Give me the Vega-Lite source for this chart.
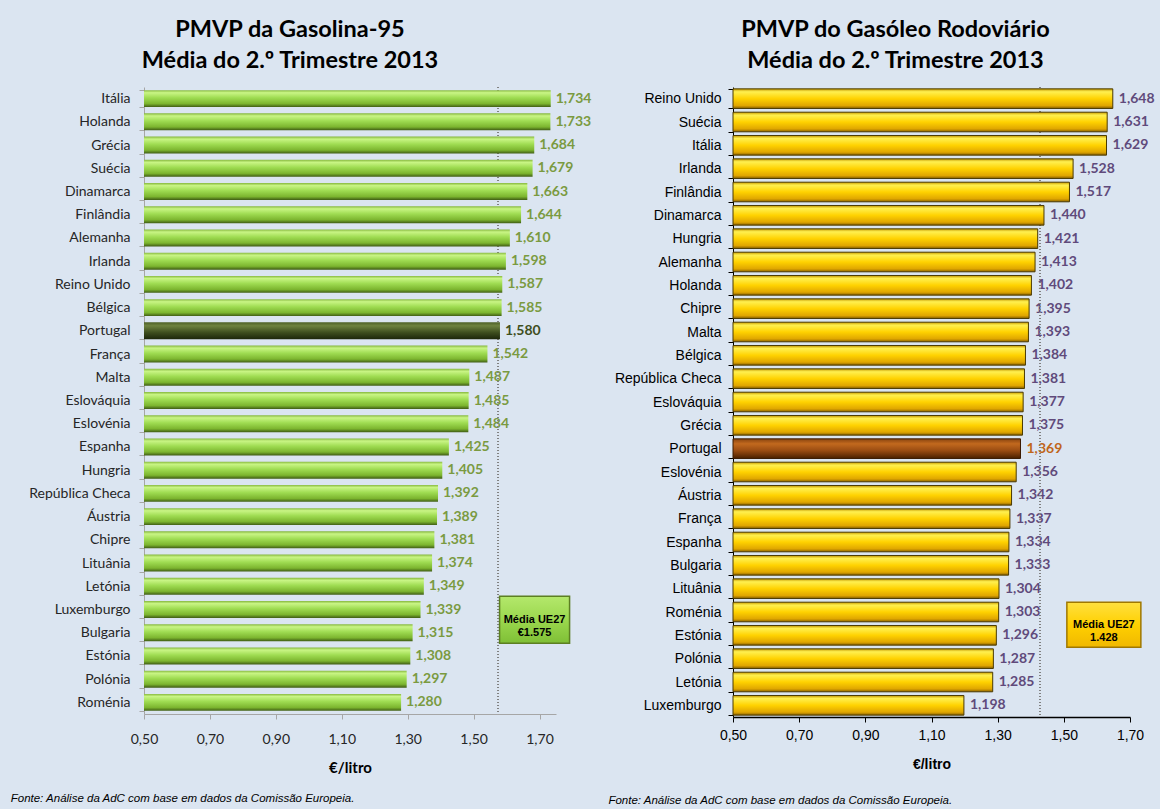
{
  "$schema": "https://vega.github.io/schema/vega-lite/v6.json",
  "background": "#dbe5f1",
  "padding": {"left": 10, "top": 17, "right": 5, "bottom": 2},
  "config": {
    "locale": {"number": {"decimal": ",", "thousands": ".", "grouping": [3], "currency": ["€", ""]}},
    "view": {"stroke": null},
    "concat": {"spacing": 16}
  },
  "datasets": {
    "gas": [
      {"pais": "Itália", "valor": 1.734},
      {"pais": "Holanda", "valor": 1.733},
      {"pais": "Grécia", "valor": 1.684},
      {"pais": "Suécia", "valor": 1.679},
      {"pais": "Dinamarca", "valor": 1.663},
      {"pais": "Finlândia", "valor": 1.644},
      {"pais": "Alemanha", "valor": 1.610},
      {"pais": "Irlanda", "valor": 1.598},
      {"pais": "Reino Unido", "valor": 1.587},
      {"pais": "Bélgica", "valor": 1.585},
      {"pais": "Portugal", "valor": 1.580},
      {"pais": "França", "valor": 1.542},
      {"pais": "Malta", "valor": 1.487},
      {"pais": "Eslováquia", "valor": 1.485},
      {"pais": "Eslovénia", "valor": 1.484},
      {"pais": "Espanha", "valor": 1.425},
      {"pais": "Hungria", "valor": 1.405},
      {"pais": "República Checa", "valor": 1.392},
      {"pais": "Áustria", "valor": 1.389},
      {"pais": "Chipre", "valor": 1.381},
      {"pais": "Lituânia", "valor": 1.374},
      {"pais": "Letónia", "valor": 1.349},
      {"pais": "Luxemburgo", "valor": 1.339},
      {"pais": "Bulgaria", "valor": 1.315},
      {"pais": "Estónia", "valor": 1.308},
      {"pais": "Polónia", "valor": 1.297},
      {"pais": "Roménia", "valor": 1.280}
    ],
    "diesel": [
      {"pais": "Reino Unido", "valor": 1.648},
      {"pais": "Suécia", "valor": 1.631},
      {"pais": "Itália", "valor": 1.629},
      {"pais": "Irlanda", "valor": 1.528},
      {"pais": "Finlândia", "valor": 1.517},
      {"pais": "Dinamarca", "valor": 1.440},
      {"pais": "Hungria", "valor": 1.421},
      {"pais": "Alemanha", "valor": 1.413},
      {"pais": "Holanda", "valor": 1.402},
      {"pais": "Chipre", "valor": 1.395},
      {"pais": "Malta", "valor": 1.393},
      {"pais": "Bélgica", "valor": 1.384},
      {"pais": "República Checa", "valor": 1.381},
      {"pais": "Eslováquia", "valor": 1.377},
      {"pais": "Grécia", "valor": 1.375},
      {"pais": "Portugal", "valor": 1.369},
      {"pais": "Eslovénia", "valor": 1.356},
      {"pais": "Áustria", "valor": 1.342},
      {"pais": "França", "valor": 1.337},
      {"pais": "Espanha", "valor": 1.334},
      {"pais": "Bulgaria", "valor": 1.333},
      {"pais": "Lituânia", "valor": 1.304},
      {"pais": "Roménia", "valor": 1.303},
      {"pais": "Estónia", "valor": 1.296},
      {"pais": "Polónia", "valor": 1.287},
      {"pais": "Letónia", "valor": 1.285},
      {"pais": "Luxemburgo", "valor": 1.198}
    ]
  },
  "hconcat": [
    {
      "title": {"text": "Fonte: Análise da AdC com base em dados da Comissão Europeia.", "orient": "bottom", "anchor": "start", "font": "Liberation Sans", "fontSize": 11.5, "fontStyle": "italic", "fontWeight": "normal", "color": "#000000", "offset": 18, "dx": -18},
      "vconcat": [
        {
          "width": 412,
          "height": 627,
          "title": {"text": ["PMVP da Gasolina-95", "Média do 2.º Trimestre 2013"], "font": "Lato", "fontSize": 23.5, "fontWeight": "bold", "lineHeight": 31, "anchor": "middle", "frame": "group", "offset": 8, "color": "#000000", "dx": -60},
          "data": {"name": "gas"},
          "encoding": {
            "y": {
              "field": "pais", "type": "nominal", "sort": null,
              "scale": {"paddingInner": 0.27, "paddingOuter": 0.135},
              "axis": {"title": null, "labelFont": "Lato", "labelFontSize": 14, "labelColor": "#262626", "domainColor": "#a6a6a6", "tickColor": "#a6a6a6", "tickBand": "extent", "tickSize": 5, "labelPadding": 9}
            }
          },
          "layer": [
            {
              "mark": {"type": "text", "align": "left", "baseline": "middle", "dx": 5, "font": "Lato", "fontSize": 14, "fontWeight": "bold"},
              "encoding": {
                "x": {"field": "valor", "type": "quantitative", "scale": {"domain": [0.5, 1.75], "zero": false, "nice": false},
                  "axis": {"values": [0.5, 0.7, 0.9, 1.1, 1.3, 1.5, 1.7], "format": ".2f", "grid": false, "labelFlush": false, "labelFont": "Lato", "labelFontSize": 14, "labelColor": "#262626", "domainColor": "#a6a6a6", "tickColor": "#a6a6a6", "tickSize": 5, "labelPadding": 13, "title": "€/litro", "titleFont": "Lato", "titleFontSize": 15, "titleFontWeight": "bold", "titleColor": "#000000", "titlePadding": 14}},
                "text": {"field": "valor", "type": "quantitative", "format": ".3f"},
                "color": {"condition": {"test": "datum.pais === 'Portugal'", "value": "#3f4f1f"}, "value": "#7a9a40"}
              }
            },
            {
              "mark": {"type": "rule", "strokeDash": [1, 2], "color": "#808080", "strokeWidth": 1},
              "encoding": {"x": {"datum": 1.575, "type": "quantitative"}, "y": null}
            },
            {
              "transform": [{"filter": "datum.pais !== 'Portugal'"}],
              "mark": {"type": "bar", "color": {"gradient": "linear", "x1": 0, "y1": 0, "x2": 0, "y2": 1, "stops": [
                {"offset": 0, "color": "#86b83e"}, {"offset": 0.15, "color": "#c9f585"}, {"offset": 0.45, "color": "#9fdc52"}, {"offset": 0.8, "color": "#7cb52f"}, {"offset": 1, "color": "#3f5c14"}]}},
              "encoding": {
                "x": {"field": "valor", "type": "quantitative"},
                "x2": {"datum": 0.5}
              }
            },
            {
              "transform": [{"filter": "datum.pais === 'Portugal'"}],
              "mark": {"type": "bar", "color": {"gradient": "linear", "x1": 0, "y1": 0, "x2": 0, "y2": 1, "stops": [
                {"offset": 0, "color": "#4f6128"}, {"offset": 0.2, "color": "#6e8240"}, {"offset": 0.6, "color": "#3e4e1e"}, {"offset": 1, "color": "#1c260a"}]}},
              "encoding": {
                "x": {"field": "valor", "type": "quantitative"},
                "x2": {"datum": 0.5}
              }
            },
            {
              "transform": [{"filter": "datum.pais === 'Luxemburgo'"}],
              "mark": {"type": "point", "filled": true, "opacity": 1, "shape": "M-1,-0.671L1,-0.671L1,0.671L-1,0.671Z", "size": 4900, "stroke": "#5c7f22", "strokeWidth": 1.5,
                "fill": {"gradient": "linear", "x1": 0, "y1": 0, "x2": 0, "y2": 1, "stops": [{"offset": 0, "color": "#b4e86c"}, {"offset": 0.5, "color": "#9bd84e"}, {"offset": 1, "color": "#7fbf36"}]}},
              "encoding": {"x": {"datum": 1.685, "type": "quantitative"}, "y": {"field": "pais", "type": "nominal", "sort": null, "bandPosition": 1.1}}
            },
            {
              "transform": [{"filter": "datum.pais === 'Luxemburgo'"}],
              "mark": {"type": "text", "align": "center", "baseline": "middle", "lineBreak": "\n", "lineHeight": 13, "font": "Liberation Sans", "fontSize": 11, "fontWeight": "bold", "color": "#000000"},
              "encoding": {"x": {"datum": 1.685, "type": "quantitative"}, "y": {"field": "pais", "type": "nominal", "sort": null, "bandPosition": 1.1}, "text": {"value": "Média UE27\n€1.575"}}
            }
          ]
        }
      ]
    },
    {
      "title": {"text": "Fonte: Análise da AdC com base em dados da Comissão Europeia.", "orient": "bottom", "anchor": "start", "font": "Liberation Sans", "fontSize": 11.5, "fontStyle": "italic", "fontWeight": "normal", "color": "#000000", "offset": 24, "dx": -6},
      "vconcat": [
        {
          "width": 397,
          "height": 630,
          "title": {"text": ["PMVP do Gasóleo Rodoviário", "Média do 2.º Trimestre 2013"], "font": "Lato", "fontSize": 23.5, "fontWeight": "bold", "lineHeight": 31, "anchor": "middle", "frame": "group", "offset": 8, "color": "#000000", "dx": -36},
          "data": {"name": "diesel"},
          "encoding": {
            "y": {
              "field": "pais", "type": "nominal", "sort": null,
              "scale": {"paddingInner": 0.16, "paddingOuter": 0.08},
              "axis": {"title": null, "labelFont": "Liberation Sans", "labelFontSize": 14, "labelColor": "#000000", "domainColor": "#000000", "tickColor": "#000000", "tickBand": "extent", "tickSize": 5, "labelPadding": 7}
            }
          },
          "layer": [
            {
              "mark": {"type": "text", "align": "left", "baseline": "middle", "dx": 6, "font": "Lato", "fontSize": 14, "fontWeight": "bold"},
              "encoding": {
                "x": {"field": "valor", "type": "quantitative", "scale": {"domain": [0.5, 1.7], "zero": false, "nice": false},
                  "axis": {"values": [0.5, 0.7, 0.9, 1.1, 1.3, 1.5, 1.7], "format": ".2f", "grid": false, "labelFlush": false, "labelFont": "Liberation Sans", "labelFontSize": 14, "labelColor": "#000000", "domainColor": "#000000", "domainWidth": 1.5, "tickColor": "#000000", "tickSize": 5, "labelPadding": 6, "title": "€/litro", "titleFont": "Liberation Sans", "titleFontSize": 14, "titleFontWeight": "bold", "titleColor": "#000000", "titlePadding": 15}},
                "text": {"field": "valor", "type": "quantitative", "format": ".3f"},
                "color": {"condition": {"test": "datum.pais === 'Portugal'", "value": "#c0651a"}, "value": "#604a7b"}
              }
            },
            {
              "mark": {"type": "rule", "strokeDash": [1, 2], "color": "#808080", "strokeWidth": 1},
              "encoding": {"x": {"datum": 1.428, "type": "quantitative"}, "y": null}
            },
            {
              "transform": [{"filter": "datum.pais !== 'Portugal'"}],
              "mark": {"type": "bar", "stroke": "#4a3a00", "strokeWidth": 1, "color": {"gradient": "linear", "x1": 0, "y1": 0, "x2": 0, "y2": 1, "stops": [
                {"offset": 0, "color": "#c79a00"}, {"offset": 0.15, "color": "#fff050"}, {"offset": 0.5, "color": "#ffd200"}, {"offset": 0.85, "color": "#e0a600"}, {"offset": 1, "color": "#8a6200"}]}},
              "encoding": {
                "x": {"field": "valor", "type": "quantitative"},
                "x2": {"datum": 0.5}
              }
            },
            {
              "transform": [{"filter": "datum.pais === 'Portugal'"}],
              "mark": {"type": "bar", "stroke": "#3a1a00", "strokeWidth": 1, "color": {"gradient": "linear", "x1": 0, "y1": 0, "x2": 0, "y2": 1, "stops": [
                {"offset": 0, "color": "#8a4510"}, {"offset": 0.25, "color": "#c2691e"}, {"offset": 0.6, "color": "#9a4c12"}, {"offset": 1, "color": "#4a2000"}]}},
              "encoding": {
                "x": {"field": "valor", "type": "quantitative"},
                "x2": {"datum": 0.5}
              }
            },
            {
              "transform": [{"filter": "datum.pais === 'Roménia'"}],
              "mark": {"type": "point", "filled": true, "opacity": 1, "shape": "M-1,-0.608L1,-0.608L1,0.608L-1,0.608Z", "size": 5476, "stroke": "#a07800", "strokeWidth": 1.5,
                "fill": {"gradient": "linear", "x1": 0, "y1": 0, "x2": 0, "y2": 1, "stops": [{"offset": 0, "color": "#ffe040"}, {"offset": 0.5, "color": "#ffd000"}, {"offset": 1, "color": "#f0b800"}]}},
              "encoding": {"x": {"datum": 1.621, "type": "quantitative"}, "y": {"field": "pais", "type": "nominal", "sort": null, "bandPosition": 1.15}}
            },
            {
              "transform": [{"filter": "datum.pais === 'Roménia'"}],
              "mark": {"type": "text", "align": "center", "baseline": "middle", "lineBreak": "\n", "lineHeight": 13, "font": "Liberation Sans", "fontSize": 11, "fontWeight": "bold", "color": "#000000"},
              "encoding": {"x": {"datum": 1.621, "type": "quantitative"}, "y": {"field": "pais", "type": "nominal", "sort": null, "bandPosition": 1.15}, "text": {"value": "Média UE27\n1.428"}}
            }
          ]
        }
      ]
    }
  ]
}
